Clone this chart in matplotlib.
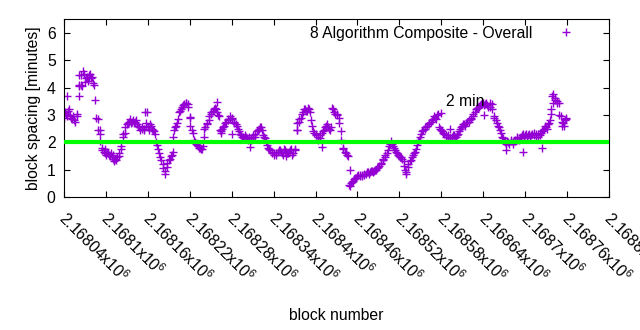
import numpy as np
import matplotlib
matplotlib.use("Agg")
import matplotlib.pyplot as plt
import matplotlib.transforms as mtransforms

plt.rcParams['font.family'] = ['Liberation Sans', 'DejaVu Sans']
plt.rcParams['mathtext.fontset'] = 'custom'
plt.rcParams['mathtext.rm'] = 'Liberation Sans'

# Blockabstand (Minuten), ein Wert alle 3 Bloecke ab 2168040
first_block = 2168040
spacing = [
    2.90, 3.05, 3.15, 3.00, 2.85, 2.80, 2.95, 4.10, 4.45, 4.62,
    4.20, 4.40, 4.45, 4.35, 4.15, 3.55, 2.85, 2.30, 1.80, 1.65,
    1.55, 1.60, 1.50, 1.45, 1.30, 1.35, 1.50, 1.75, 2.20, 2.35,
    2.65, 2.75, 2.70, 2.80, 2.75, 2.65, 2.55, 2.50, 2.45, 2.60,
    2.55, 2.65, 2.50, 2.40, 2.00, 1.75, 1.45, 1.20, 0.85, 1.10,
    1.35, 1.50, 1.65, 2.55, 2.70, 3.10, 3.20, 3.35, 3.45, 3.40,
    2.90, 2.45, 2.10, 1.95, 1.85, 1.80, 1.75, 2.50, 2.65, 2.80,
    3.05, 3.15, 3.25, 3.10, 2.95, 2.40, 2.55, 2.70, 2.80, 2.85,
    2.90, 2.75, 2.65, 2.50, 2.30, 2.20, 2.15, 2.20, 2.10, 2.15,
    2.25, 2.20, 2.40, 2.50, 2.55, 2.25, 2.15, 1.90, 1.75, 1.65,
    1.60, 1.55, 1.65, 1.70, 1.60, 1.75, 1.65, 1.60, 1.70, 1.55,
    1.75, 2.45, 2.75, 2.90, 3.10, 3.20, 3.15, 3.20, 2.80, 2.40,
    2.30, 2.20, 2.15, 2.35, 2.45, 2.60, 2.55, 2.45, 3.25, 3.10,
    3.05, 2.90, 2.40, 1.80, 1.65, 1.55, 0.45, 0.50, 0.60, 0.70,
    0.75, 0.80, 0.75, 0.85, 0.85, 0.90, 0.90, 0.95, 0.95, 1.00,
    1.10, 1.20, 1.35, 1.45, 1.60, 1.85, 2.05, 1.85, 1.70, 1.60,
    1.50, 1.45, 1.30, 0.90, 1.10, 1.30, 1.45, 1.60, 1.75, 2.05,
    2.20, 2.40, 2.50, 2.60, 2.65, 2.75, 2.85, 2.90, 3.00, 2.55,
    2.45, 2.35, 2.25, 2.20, 2.15, 2.20, 2.25, 2.20, 2.30, 2.50,
    2.60, 2.65, 2.70, 2.75, 2.85, 2.95, 3.10, 3.25, 3.30, 3.40,
    3.45, 3.40, 3.35, 3.30, 3.40, 2.95, 2.80, 2.60, 2.45, 2.20,
    2.05, 1.95, 2.00, 2.05, 1.95, 2.05, 2.15, 2.10, 2.20, 2.30,
    2.25, 2.20, 2.30, 2.25, 2.35, 2.20, 2.30, 2.25, 2.40, 2.50,
    2.55, 2.65, 2.80, 3.70, 3.60, 3.50, 3.45, 2.95, 2.70, 2.80,
]

# zweite Reihe, jeweils einen Block spaeter (2168041, 2168044, ...)
spacing_b = [
    3.10, 2.95, 3.20, 2.90, 2.95, 2.75, 3.05, 4.05, 4.10, 4.50,
    4.35, 4.25, 4.50, 4.40, 4.10, 2.90, 2.45, 2.05, 1.70, 1.60,
    1.65, 1.55, 1.60, 1.40, 1.40, 1.45, 1.60, 1.85, 2.30, 2.55,
    2.70, 2.85, 2.75, 2.70, 2.80, 2.60, 2.45, 2.55, 2.50, 2.70,
    2.45, 2.60, 2.45, 2.30, 1.90, 1.60, 1.35, 1.05, 0.95, 1.25,
    1.40, 1.55, 2.45, 2.60, 2.85, 3.15, 3.30, 3.40, 3.45, 3.30,
    2.60, 2.35, 2.00, 1.90, 1.80, 1.75, 1.85, 2.55, 2.70, 2.95,
    3.10, 3.20, 3.20, 3.00, 2.45, 2.50, 2.60, 2.75, 2.85, 2.95,
    2.85, 2.70, 2.60, 2.40, 2.25, 2.20, 2.25, 2.15, 2.20, 2.10,
    2.20, 2.30, 2.45, 2.55, 2.45, 2.20, 2.05, 1.80, 1.70, 1.60,
    1.55, 1.60, 1.70, 1.65, 1.55, 1.70, 1.60, 1.65, 1.75, 1.60,
    1.70, 2.70, 2.85, 3.05, 3.20, 3.15, 3.25, 3.10, 2.60, 2.35,
    2.25, 2.10, 2.25, 2.40, 2.55, 2.65, 2.50, 2.55, 3.20, 3.05,
    3.00, 2.70, 2.10, 1.75, 1.60, 1.50, 0.40, 0.55, 0.65, 0.70,
    0.80, 0.75, 0.80, 0.80, 0.90, 0.85, 0.95, 0.90, 1.00, 1.05,
    1.15, 1.25, 1.40, 1.55, 1.70, 1.95, 1.95, 1.80, 1.65, 1.55,
    1.45, 1.40, 1.15, 0.85, 1.20, 1.35, 1.55, 1.65, 1.90, 2.10,
    2.30, 2.45, 2.55, 2.60, 2.70, 2.80, 2.95, 2.85, 3.05, 2.50,
    2.40, 2.30, 2.20, 2.25, 2.15, 2.25, 2.20, 2.25, 2.40, 2.55,
    2.65, 2.60, 2.75, 2.80, 2.90, 3.05, 3.20, 3.25, 3.35, 3.45,
    3.35, 3.45, 3.30, 3.45, 3.20, 2.90, 2.70, 2.55, 2.35, 2.15,
    2.00, 2.05, 1.95, 2.10, 2.00, 2.10, 2.20, 2.15, 2.25, 2.20,
    2.30, 2.25, 2.20, 2.30, 2.25, 2.30, 2.20, 2.35, 2.45, 2.60,
    2.50, 2.70, 3.05, 3.75, 3.55, 3.45, 3.00, 2.75, 2.60, 2.85,
]

# einzelne Ausreisser
extra_offset = [4, 21, 22, 26, 36, 52, 58, 70, 116, 119, 156, 180, 200, 219,
                225, 241, 266, 317, 333, 369, 409, 488, 539, 553, 601, 633,
                657, 684, 697, 700, 712, 719]
extra_spacing = [3.70, 3.70, 4.45, 4.05, 4.40, 2.45, 1.75, 1.55, 3.10, 3.10,
                 2.20, 2.93, 2.20, 3.48, 2.35, 2.30, 1.83, 1.50, 2.45, 1.83,
                 0.99, 0.99, 3.07, 2.50, 3.00, 1.72, 1.65, 1.80, 3.20, 3.45,
                 2.60, 2.89]

target = 2.0
xticks = np.arange(2168040, 2168821, 60)
fs = 11.3

blocks = first_block + 3 * np.arange(len(spacing))
blocks_b = first_block + 1 + 3 * np.arange(len(spacing_b))
extra_blocks = first_block + np.array(extra_offset)
all_blocks = np.concatenate([blocks, blocks_b, extra_blocks])
all_spacing = np.concatenate([spacing, spacing_b, extra_spacing])

fig = plt.figure(figsize=(6.4, 3.3), dpi=100)
ax = fig.add_axes([0.1, 0.403, 0.8516, 0.539])

ax.plot(all_blocks, all_spacing, linestyle='none', marker='+', color='#9400d3',
        markersize=6, markeredgewidth=1.0,
        label='8 Algorithm Composite - Overall')
ax.axhline(target, color='#00ff00', linewidth=3, zorder=3)
ax.text(2168586, 3.5, '2 min', fontsize=fs, va='center', ha='left', zorder=4)

ax.set_xlim(2168040, 2168820)
ax.set_ylim(0, 6.5)
ax.set_xticks(xticks)
ax.set_xticklabels([])
# gedrehte Tick-Beschriftungen wie bei gnuplot
lab_trans = mtransforms.offset_copy(ax.get_xaxis_transform(), fig=fig,
                                    x=3.5, y=-8.2, units='points')
for t in xticks:
    s = ('%.6f' % (t / 1e6)).rstrip('0').rstrip('.')
    ax.text(t, 0, s + r'x10$^{6}$', transform=lab_trans, rotation=-45,
            rotation_mode='anchor', ha='left', va='top', fontsize=fs,
            clip_on=False)

ax.set_yticks(range(7))
ax.tick_params(direction='in', length=4, top=True, right=True,
               labelsize=fs, pad=6)
ax.set_xlabel('block number', fontsize=fs, va='top')
ax.xaxis.set_label_coords(0.5, -0.625)
ax.set_ylabel('block spacing [minutes]', fontsize=fs)

ax.legend(loc='upper right', frameon=False, markerfirst=False, fontsize=fs,
          bbox_to_anchor=(0.9435, 0.963), borderaxespad=0, borderpad=0,
          handlelength=1.5, handletextpad=1.4)

fig.savefig('out.png', dpi=100)
